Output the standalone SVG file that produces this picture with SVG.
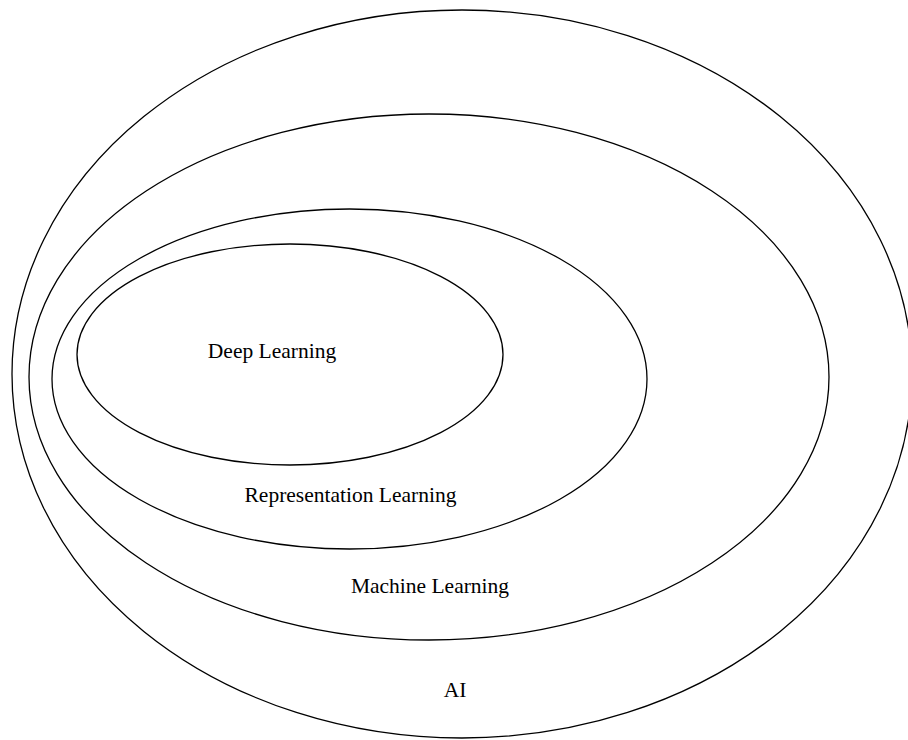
<svg xmlns="http://www.w3.org/2000/svg" width="908" height="740" viewBox="0 0 908 740">
<style>
.e{fill:none;stroke:#000;stroke-width:1.3}
.t{font-family:"Liberation Serif","Times New Roman",serif;font-size:21.5px;fill:#000;text-anchor:middle}
</style>
<rect width="908" height="740" fill="#fff"/>
<g id="ai"><ellipse class="e" cx="462" cy="374" rx="450" ry="364"/><text class="t" x="455" y="697">AI</text></g>
<g id="ml"><ellipse class="e" cx="429" cy="377" rx="400" ry="263"/><text class="t" x="430" y="593">Machine Learning</text></g>
<g id="rl"><ellipse class="e" cx="349.5" cy="379" rx="297.5" ry="170"/><text class="t" x="350.5" y="502">Representation Learning</text></g>
<g id="dl"><ellipse class="e" cx="290" cy="354.5" rx="213" ry="110.5"/><text class="t" x="272" y="358">Deep Learning</text></g>
<g id="connectors"/>
</svg>
